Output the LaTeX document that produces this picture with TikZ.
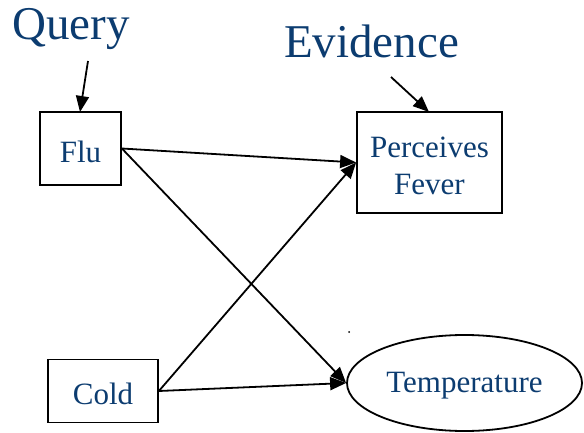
\documentclass[tikz,border=0pt]{standalone}
\usepackage{fontspec}
\setmainfont{Liberation Serif}
\usetikzlibrary{arrows.meta,shapes.geometric}
\definecolor{txtblue}{RGB}{12,60,112}
\newcommand{\lowr}[1]{\raisebox{-3pt}[\height][\depth]{#1}}
\tikzset{
  varbox/.style={draw=black, line width=1.8pt, rectangle, text=txtblue,
    font=\fontsize{31}{37}\selectfont, align=center, inner sep=0pt},
  varell/.style={draw=black, line width=1.8pt, ellipse, text=txtblue,
    font=\fontsize{31}{37}\selectfont, inner sep=0pt},
  bigword/.style={text=txtblue, font=\fontsize{47}{52}\selectfont, inner sep=0pt},
  link/.style={line width=1.8pt, -{Triangle[length=16pt,width=13pt]}},
}
\begin{document}
\begin{tikzpicture}[x=1pt,y=-1pt]
\useasboundingbox (0,0) rectangle (584,433);
\node[varbox, minimum width=81pt, minimum height=73pt] (flu) at (80.5,148.5) {\lowr{Flu}};
\node[varbox, minimum width=145pt, minimum height=101pt] (pf) at (429.5,162.5) {\lowr{Perceives}\\\lowr{Fever}};
\node[varbox, minimum width=110pt, minimum height=63pt] (cold) at (103,391) {\lowr{Cold}};
\node[varell, minimum width=235pt, minimum height=96pt] (temp) at (464.5,383) {\lowr{Temperature}};
\node[bigword, anchor=base west] (query) at (12,40) {Query};
\node[bigword, anchor=base west] (evid) at (284,58) {Evidence};
\coordinate (qs) at (88,61);
\coordinate (es) at (391,77);
\coordinate (qe) at (80,112);
\coordinate (ee) at (429,112);
\draw[link] (qs) -- (qe);
\draw[link] (es) -- (ee);
\draw[link] (flu.east) -- (pf.west);
\draw[link] (flu.east) -- (temp.west);
\draw[link] (cold.east) -- (pf.west);
\draw[link] (cold.east) -- (temp.west);
\fill (349,332) circle (1pt);
\end{tikzpicture}
\end{document}
